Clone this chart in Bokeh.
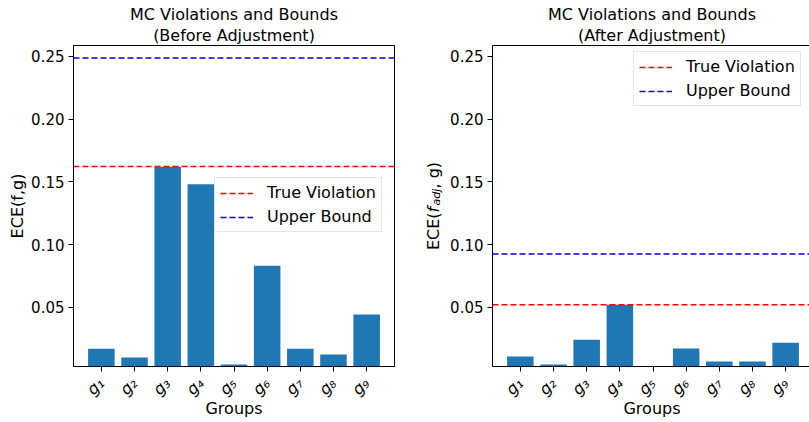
import math
from bokeh.plotting import figure
from bokeh.models import (Range1d, FixedTicker, PrintfTickFormatter, Label,
                          ColumnDataSource, Legend, LegendItem, LinearAxis, Title)
from bokeh.layouts import row
from bokeh.embed import file_html
from bokeh.resources import INLINE

# ---------------- data ----------------
groups = ["g\u2081", "g\u2082", "g\u2083", "g\u2084", "g\u2085",
          "g\u2086", "g\u2087", "g\u2088", "g\u2089"]
ece_before = [0.0170, 0.0099, 0.1620, 0.1480, 0.0043, 0.0832, 0.0170, 0.0123, 0.0442]
ece_after = [0.0107, 0.0043, 0.0242, 0.0521, 0.0010, 0.0171, 0.0067, 0.0067, 0.0218]
true_violation_before = 0.1622
upper_bound_before = 0.2487
true_violation_after = 0.0521
upper_bound_after = 0.0925
y_ticks = [0.05, 0.10, 0.15, 0.20, 0.25]
title_line1 = "MC Violations and Bounds"
title_before = "(Before Adjustment)"
title_after = "(After Adjustment)"
x_label = "Groups"
legend_labels = ["True Violation", "Upper Bound"]

# ---------------- style / layout ----------------
FONT = "DejaVu Sans"
BAR = "#1f77b4"
Y_MIN, Y_MAX = 0.0028, 0.2587
X_START = -0.84
X_END_FULL = 8.84
TOP, FRAME_H, BOTTOM = 45, 321, 56
FRAME_W_LEFT = 321
UNIT = FRAME_W_LEFT / (X_END_FULL - X_START)
FRAME_W_RIGHT = 319
X_END_RIGHT = X_START + FRAME_W_RIGHT / UNIT
Y_MID = (Y_MIN + Y_MAX) / 2
PX = (Y_MAX - Y_MIN) / FRAME_H


def side_fig(w):
    f = figure(frame_width=w, frame_height=FRAME_H, min_border_left=0, min_border_right=0,
               min_border_top=TOP, min_border_bottom=BOTTOM,
               x_range=Range1d(0, w), y_range=Range1d(Y_MIN, Y_MAX),
               x_axis_location=None, y_axis_location=None,
               output_backend="svg", toolbar_location=None)
    f.outline_line_color = None
    f.grid.visible = False
    return f


def make_panel(vals, true_v, upper_v, subtitle, frame_w, x_end, border_left,
               border_right, legend_loc, right_panel):
    p = figure(frame_width=frame_w, frame_height=FRAME_H,
               x_range=Range1d(X_START, x_end), y_range=Range1d(Y_MIN, Y_MAX),
               output_backend="svg", toolbar_location=None,
               min_border_left=border_left, min_border_right=border_right,
               min_border_top=TOP, min_border_bottom=BOTTOM,
               title=title_line1)
    p.title.align = "center"
    p.title.text_font = FONT
    p.title.text_font_size = "16px"
    p.title.text_font_style = "normal"
    p.title.text_color = "black"
    p.title.standoff = 0
    if right_panel:
        p.outline_line_color = None
        top = LinearAxis(ticker=FixedTicker(ticks=[]), major_tick_out=0, major_tick_in=0,
                         minor_tick_out=0, minor_tick_in=0, axis_line_color="black",
                         axis_line_width=1)
        p.add_layout(top, "above")
    else:
        p.outline_line_color = "black"
        p.outline_line_alpha = 1.0
        p.outline_line_width = 1
    p.add_layout(Title(text=subtitle, align="center", text_font=FONT,
                       text_font_size="16px", text_font_style="normal",
                       text_color="black", standoff=1), "above")
    p.grid.visible = False
    xaxis = p.below[0]
    yaxis = p.left[0]

    xs = list(range(len(groups)))
    src = ColumnDataSource(dict(x=xs, top=vals))
    p.vbar(x="x", top="top", bottom=0, width=0.8, source=src,
           fill_color=BAR, line_color=None)

    r_true = p.line([X_START, x_end], [true_v, true_v], line_color="red",
                    line_width=1.5, line_dash="6 3")
    r_up = p.line([X_START, x_end], [upper_v, upper_v], line_color="blue",
                  line_width=1.5, line_dash="6 3")

    xaxis.ticker = FixedTicker(ticks=xs)
    xaxis.major_label_overrides = {i: g for i, g in enumerate(groups)}
    xaxis.major_label_orientation = math.pi / 4
    xaxis.major_label_text_align = "center"
    xaxis.major_label_text_font = FONT
    xaxis.major_label_text_font_style = "italic"
    xaxis.major_label_text_font_size = "16px"
    xaxis.major_label_text_color = "black"
    xaxis.major_label_standoff = 9
    xaxis.axis_label = x_label
    xaxis.axis_label_text_font = FONT
    xaxis.axis_label_text_font_size = "16px"
    xaxis.axis_label_text_font_style = "normal"
    xaxis.axis_label_text_color = "black"
    xaxis.axis_label_standoff = -10
    yaxis.ticker = FixedTicker(ticks=y_ticks)
    yaxis.formatter = PrintfTickFormatter(format="%.2f")
    yaxis.major_label_text_font = FONT
    yaxis.major_label_text_font_size = "15px"
    yaxis.major_label_text_color = "black"
    yaxis.major_label_standoff = 4
    for ax in (xaxis, yaxis):
        ax.axis_line_color = "black"
        ax.major_tick_line_color = "black"
        ax.major_tick_out = 5
        ax.major_tick_in = 0
        ax.minor_tick_out = 0
        ax.minor_tick_in = 0

    legend = Legend(items=[LegendItem(label=legend_labels[0], renderers=[r_true]),
                           LegendItem(label=legend_labels[1], renderers=[r_up])],
                    location=legend_loc, label_text_font=FONT,
                    label_text_font_size="16px", label_text_color="black",
                    glyph_width=33, glyph_height=16, label_height=16,
                    label_standoff=14, spacing=5, padding=5, margin=0,
                    border_line_color="#cccccc", border_line_width=1,
                    background_fill_color="white", background_fill_alpha=0.8)
    p.add_layout(legend)
    return p


# left y label column
ylab_left = side_fig(28)
ylab_left.add_layout(Label(x=17, y=Y_MID, text="ECE(f,g)", angle=math.pi / 2,
                           text_align="center", text_baseline="alphabetic",
                           text_font=FONT, text_font_size="16px", text_color="black"))

left = make_panel(ece_before, true_violation_before, upper_bound_before, title_before,
                  FRAME_W_LEFT, X_END_FULL, 44, 7, (141, 134), False)

# middle y label column (right panel's label with subscript)
ylab_mid = side_fig(46)
pieces = [("ECE(", 16, "normal", 0, 2.352 * 16),
          ("f", 16, "italic", 0, 0.352 * 16 + 1.2),
          ("adj", 11.2, "italic", 3, 1.526 * 11.2),
          (", g)", 16, "normal", 0, 1.661 * 16)]
total = sum(pc[4] for pc in pieces)
pos = -total / 2
for txt, size, style, shift, w in pieces:
    ylab_mid.add_layout(Label(x=32 + shift, y=Y_MID + pos * PX, text=txt,
                              angle=math.pi / 2, text_align="left",
                              text_baseline="alphabetic", text_font=FONT,
                              text_font_style=style, text_font_size=f"{size}px",
                              text_color="black"))
    pos += w

right = make_panel(ece_after, true_violation_after, upper_bound_after, title_after,
                   FRAME_W_RIGHT, X_END_RIGHT, 44, 0, (141, 260), True)

layout = row(ylab_left, left, ylab_mid, right)
open("out.html", "w").write(file_html(layout, INLINE))
